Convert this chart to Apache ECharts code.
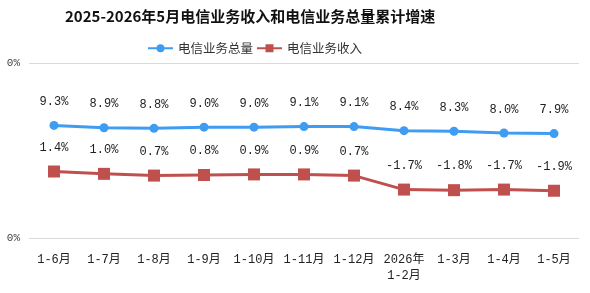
<!DOCTYPE html>
<html>
<head>
<meta charset="utf-8">
<script src="https://cdn.jsdelivr.net/npm/echarts@6/dist/echarts.min.js"></script>
<style>
    html, body {margin: 0; padding: 0; background: #fff;}
    #chartWrap {width: 590px; height: 293px;}
</style>
</head>
<body>
<div id="chartWrap"></div>
<script>
// 月份
const months = ['1-6月', '1-7月', '1-8月', '1-9月', '1-10月', '1-11月', '1-12月', '2026年\n1-2月', '1-3月', '1-4月', '1-5月'];
// 电信业务总量累计增速 (%)
const totalVolume = [9.3, 8.9, 8.8, 9.0, 9.0, 9.1, 9.1, 8.4, 8.3, 8.0, 7.9];
// 电信业务收入累计增速 (%)
const revenue = [1.4, 1.0, 0.7, 0.8, 0.9, 0.9, 0.7, -1.7, -1.8, -1.7, -1.9];
// y轴范围和刻度线
const yMin = -10;
const yMax = 20;
const yGridLines = [yMin, yMax];

const monoFont = '"Liberation Mono", "Noto Sans CJK SC", monospace';
const cjkFont = '"Noto Sans CJK SC", sans-serif';

let myChart = echarts.init(document.getElementById('chartWrap'));

myChart.setOption({
    animation: false,
    backgroundColor: '#fff',
    title: {
        text: '2025-2026年5月电信业务收入和电信业务总量累计增速',
        left: 60,
        top: 4,
        textStyle: {
            fontFamily: cjkFont,
            fontSize: 15,
            fontWeight: 'bold',
            color: '#111'
        }
    },
    legend: {
        top: 37,
        left: 142,
        itemGap: 3,
        itemWidth: 25,
        itemHeight: 10,
        textStyle: {
            fontFamily: cjkFont,
            fontSize: 12.5,
            color: '#333'
        },
        data: ['电信业务总量', '电信业务收入']
    },
    grid: {
        left: 29,
        right: 11,
        top: 63,
        bottom: 55,
        containLabel: false
    },
    xAxis: {
        type: 'category',
        data: months,
        axisLine: {show: false},
        axisTick: {show: false},
        axisLabel: {
            margin: 14,
            fontFamily: monoFont,
            fontSize: 12,
            color: '#222',
            interval: 0,
            lineHeight: 16
        }
    },
    yAxis: {
        type: 'value',
        min: yMin,
        max: yMax,
        axisLine: {show: false},
        axisTick: {show: false},
        axisLabel: {show: false},
        splitLine: {show: false}
    },
    series: [
        {
            name: '电信业务总量',
            type: 'line',
            data: totalVolume,
            symbol: 'circle',
            symbolSize: 9,
            itemStyle: {color: '#3f9cf3'},
            lineStyle: {width: 3, color: '#3f9cf3'},
            label: {
                show: true,
                position: 'top',
                distance: 13,
                formatter: p => p.value.toFixed(1) + '%',
                fontFamily: monoFont,
                fontSize: 12,
                color: '#222'
            },
            markLine: {
                silent: true,
                symbol: 'none',
                lineStyle: {color: '#d9d9d9', width: 1, type: 'solid'},
                label: {
                    position: 'start',
                    distance: 9,
                    formatter: '0%',
                    fontFamily: monoFont,
                    fontSize: 11,
                    color: '#444'
                },
                data: yGridLines.map(v => ({yAxis: v}))
            }
        },
        {
            name: '电信业务收入',
            type: 'line',
            data: revenue,
            symbol: 'rect',
            symbolSize: 12,
            itemStyle: {color: '#c0504d'},
            lineStyle: {width: 3, color: '#c0504d'},
            label: {
                show: true,
                position: 'top',
                distance: 12,
                formatter: p => p.value.toFixed(1) + '%',
                fontFamily: monoFont,
                fontSize: 12,
                color: '#222'
            }
        }
    ]
});
</script>
</body>
</html>
